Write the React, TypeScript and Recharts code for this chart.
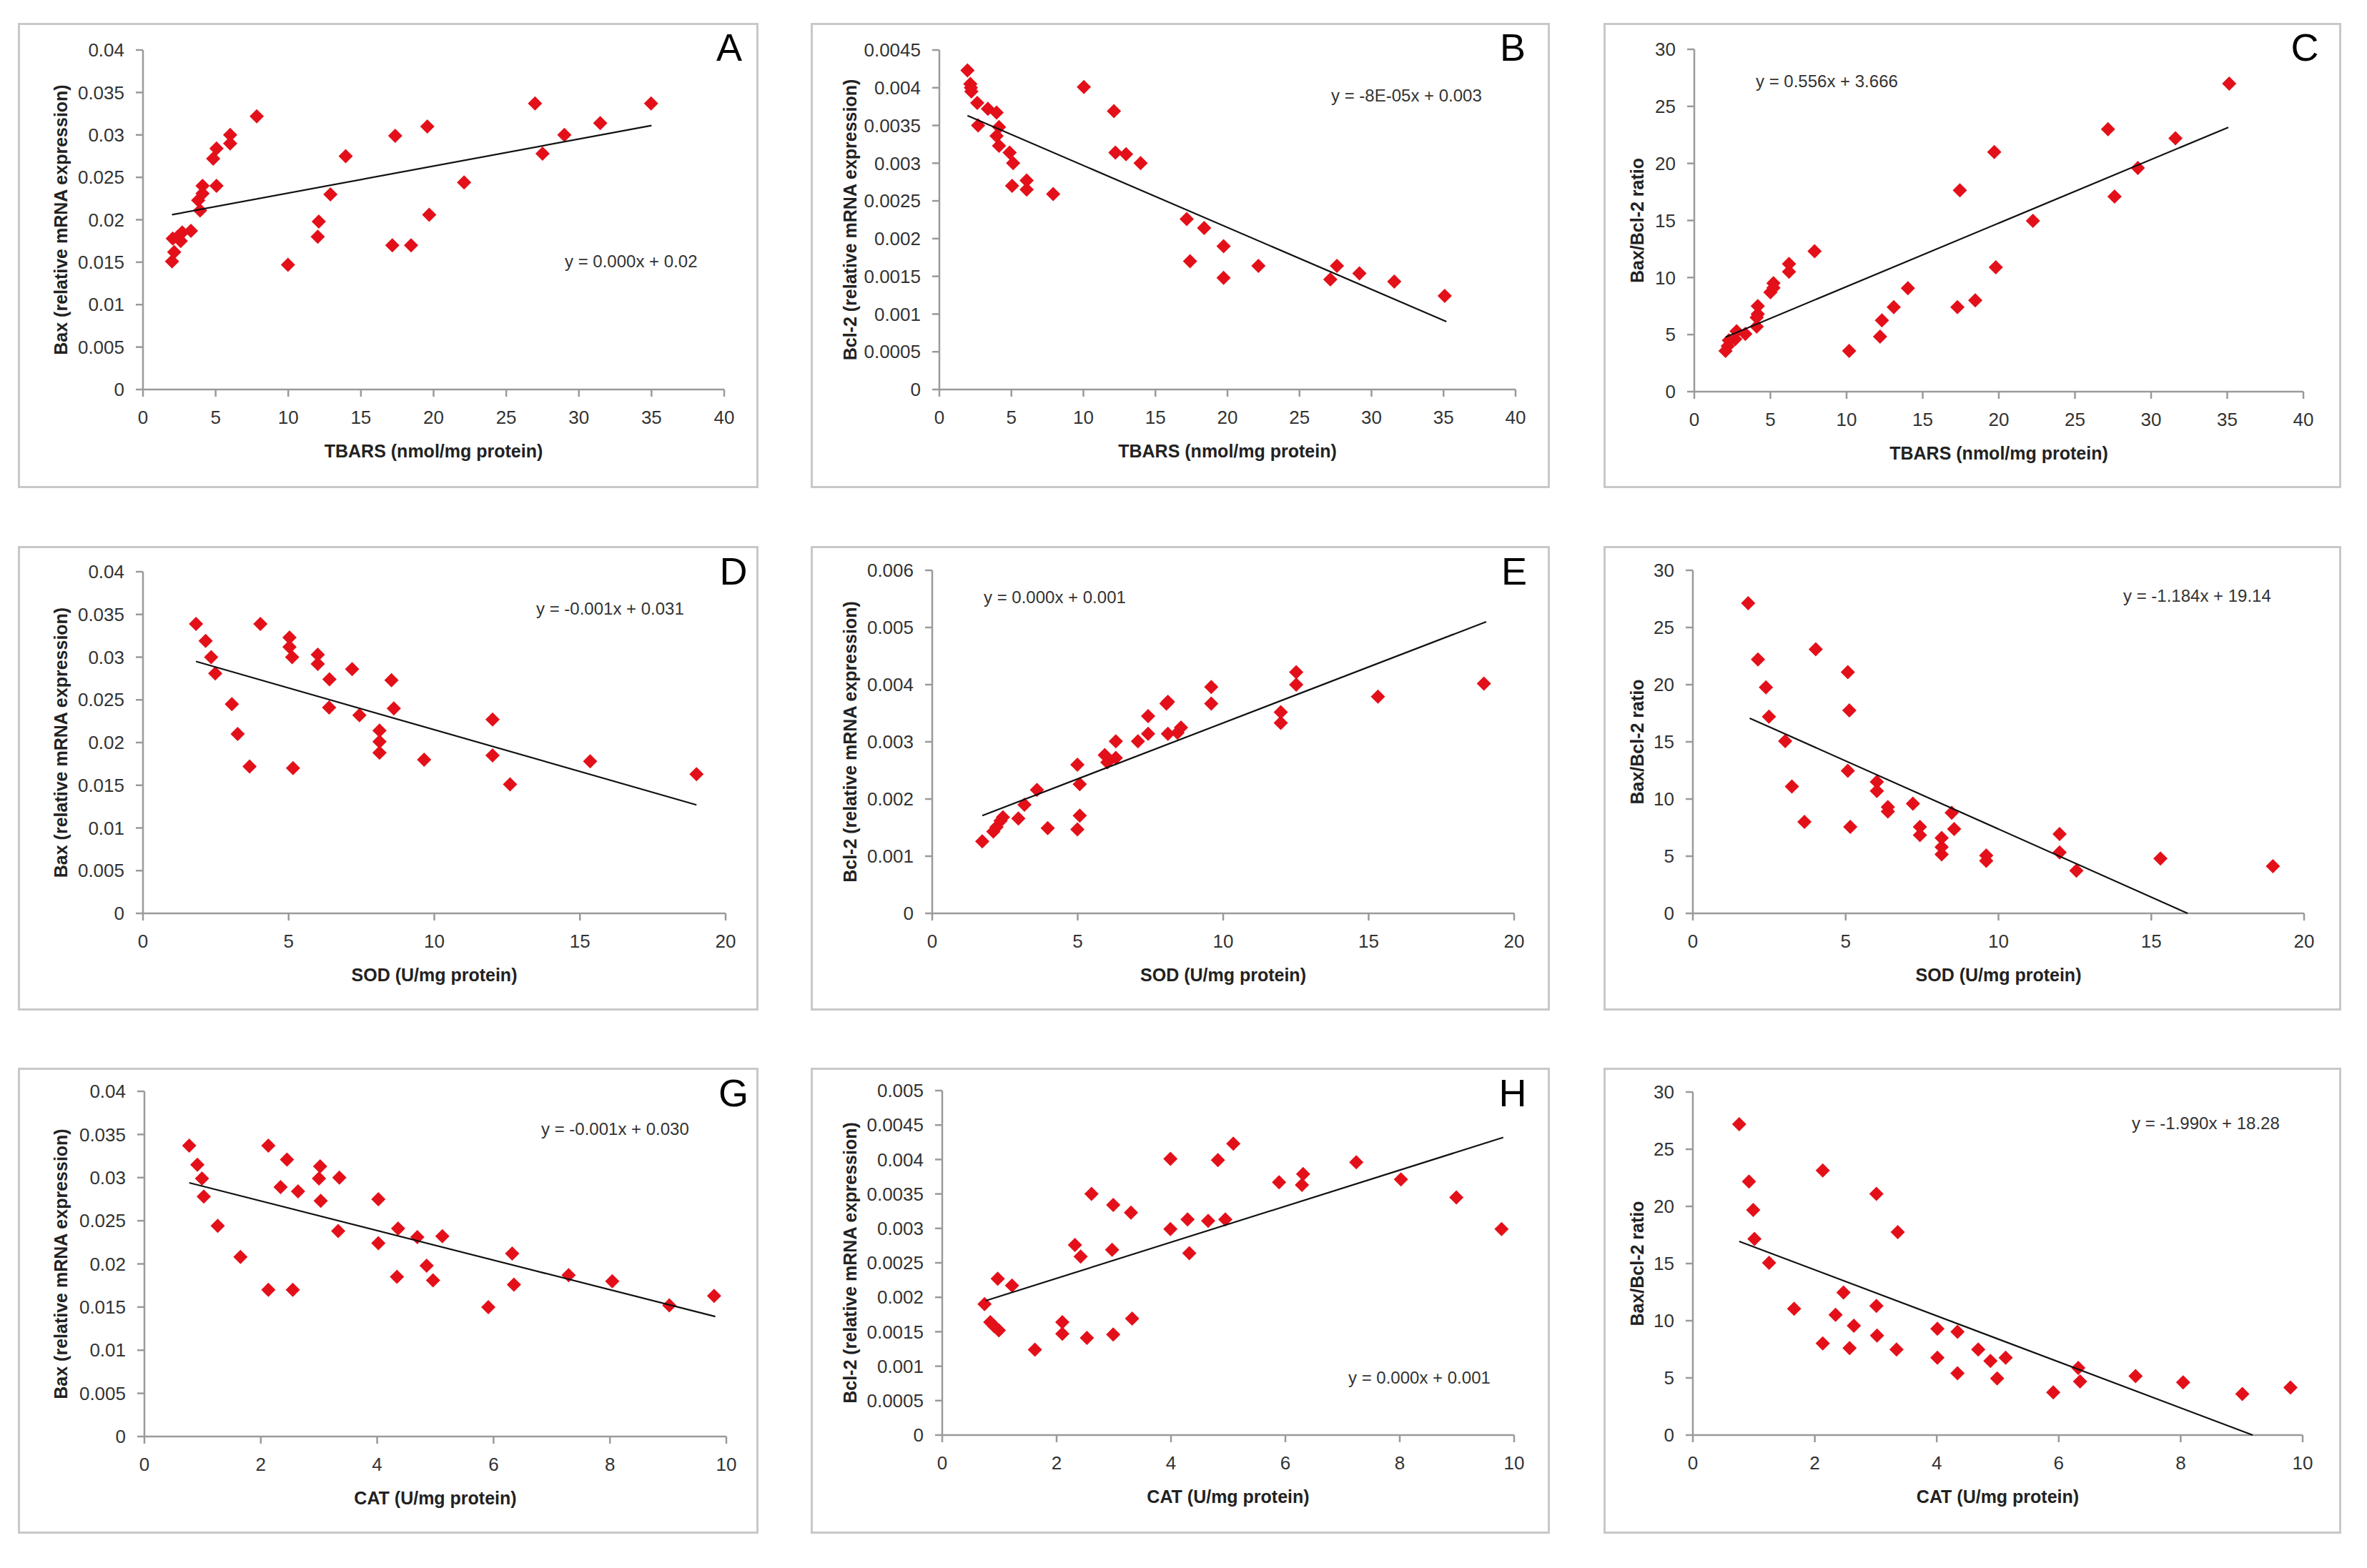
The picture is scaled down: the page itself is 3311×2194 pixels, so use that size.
import React from 'react'
import { ScatterChart, Scatter, XAxis, YAxis, Label } from 'recharts'

const FONT = "'Liberation Sans', Arial, sans-serif"
const RED = '#e3101a'
const AXIS = '#9a9a9a'

// ---- data ----
const tbarsA = [2.0, 2.15, 2.05, 2.4, 2.6, 2.7, 3.3, 3.8, 3.93, 4.1, 4.1, 4.83, 5.06, 5.06, 6.0, 6.0, 7.83, 9.98, 12.03, 12.1, 12.9, 13.95, 17.16, 17.36, 18.45, 19.57, 19.7, 22.1, 26.98, 27.5, 29.0, 31.47, 34.97]
const baxA = [0.0151, 0.0162, 0.0178, 0.018, 0.0175, 0.0185, 0.0187, 0.0223, 0.0211, 0.024, 0.0231, 0.0272, 0.0284, 0.024, 0.03, 0.029, 0.0322, 0.0147, 0.018, 0.0198, 0.023, 0.0275, 0.017, 0.0299, 0.017, 0.031, 0.0206, 0.0244, 0.0337, 0.0278, 0.03, 0.0314, 0.0337]
const trendAx = [2.0, 35.0]
const trendAy = [0.0206, 0.0311]

const tbarsB = [1.95, 2.15, 2.19, 2.22, 2.63, 2.69, 3.37, 3.97, 4.14, 3.97, 4.14, 4.88, 5.12, 5.05, 6.06, 6.06, 7.9, 10.03, 12.12, 12.22, 12.96, 13.97, 17.17, 17.4, 18.38, 19.73, 19.73, 22.15, 27.14, 27.6, 29.16, 31.58, 35.08]
const bcl2B = [0.00423, 0.00405, 0.004, 0.00395, 0.0038, 0.0035, 0.00372, 0.00367, 0.00348, 0.00336, 0.00323, 0.00314, 0.003, 0.0027, 0.00277, 0.00265, 0.00259, 0.00401, 0.00369, 0.00314, 0.00312, 0.003, 0.00226, 0.0017, 0.00214, 0.0019, 0.00148, 0.00164, 0.00146, 0.00164, 0.00154, 0.00143, 0.00124]
const trendBx = [1.95, 35.2]
const trendBy = [0.00363, 0.0009]

const tbarsC = [2.05, 2.2, 2.27, 2.69, 2.78, 3.35, 4.1, 4.1, 4.17, 4.17, 5.0, 5.2, 5.2, 6.22, 6.22, 7.9, 10.17, 12.2, 12.32, 13.1, 14.03, 17.28, 17.44, 18.45, 19.7, 19.8, 22.24, 27.17, 27.6, 29.13, 31.6, 35.13]
const ratioC = [3.57, 4.0, 4.5, 4.6, 5.3, 5.05, 5.7, 6.5, 6.8, 7.5, 8.7, 9.1, 9.5, 10.5, 11.2, 12.3, 3.57, 4.83, 6.25, 7.4, 9.07, 7.4, 17.65, 8.0, 21.0, 10.9, 14.97, 23.0, 17.1, 19.6, 22.2, 27.0]
const trendCx = [2.05, 35.07]
const trendCy = [4.78, 23.16]

const sodD = [1.82, 2.15, 2.34, 2.48, 3.05, 3.25, 3.66, 4.03, 5.03, 5.03, 5.12, 5.15, 6.0, 6.0, 6.4, 6.39, 7.18, 7.43, 8.12, 8.12, 8.12, 8.53, 8.61, 9.65, 12.0, 12.0, 12.6, 15.35, 19.0]
const baxD = [0.0339, 0.0319, 0.03, 0.0281, 0.0245, 0.021, 0.0172, 0.0339, 0.0323, 0.0312, 0.03, 0.017, 0.0303, 0.0292, 0.0274, 0.0241, 0.0286, 0.0232, 0.0214, 0.0201, 0.0188, 0.0273, 0.024, 0.018, 0.0227, 0.0185, 0.0151, 0.0178, 0.0163]
const trendDx = [1.82, 19.0]
const trendDy = [0.0295, 0.0127]

const sodE = [1.72, 2.1, 2.21, 2.35, 2.43, 2.96, 3.17, 3.6, 3.97, 4.99, 4.99, 5.07, 5.07, 5.93, 6.02, 6.31, 6.31, 7.07, 7.42, 7.42, 8.05, 8.1, 8.1, 8.43, 8.55, 9.59, 9.59, 11.98, 11.98, 12.51, 12.51, 15.32, 18.96]
const bcl2E = [0.00126, 0.00143, 0.00151, 0.00162, 0.00168, 0.00166, 0.0019, 0.00216, 0.00149, 0.0026, 0.00147, 0.00226, 0.00171, 0.00277, 0.00264, 0.00272, 0.00301, 0.00301, 0.00314, 0.00345, 0.00367, 0.0037, 0.00314, 0.00316, 0.00325, 0.00367, 0.00396, 0.00352, 0.00333, 0.00422, 0.004, 0.00379, 0.00402]
const trendEx = [1.72, 19.04]
const trendEy = [0.00171, 0.0051]

const sodF = [1.81, 2.13, 2.39, 2.49, 3.02, 3.24, 3.65, 4.02, 5.07, 5.12, 5.07, 5.15, 6.02, 6.02, 6.38, 6.38, 7.2, 7.43, 7.43, 8.14, 8.14, 8.14, 8.47, 8.55, 9.6, 9.6, 12.0, 12.0, 12.55, 15.3, 18.98]
const ratioF = [27.13, 22.2, 19.76, 17.2, 15.07, 11.1, 8.0, 23.1, 21.1, 17.75, 12.47, 7.56, 11.5, 10.7, 9.3, 8.9, 9.6, 7.56, 6.84, 6.6, 5.8, 5.15, 8.8, 7.37, 5.07, 4.6, 6.94, 5.33, 3.73, 4.8, 4.13]
const trendFx = [1.86, 16.19]
const trendFy = [17.07, 0]

const catG = [0.77, 0.91, 0.99, 1.02, 1.26, 1.65, 2.13, 2.13, 2.34, 2.45, 2.55, 2.64, 3.0, 3.02, 3.03, 3.33, 3.35, 4.02, 4.02, 4.34, 4.36, 4.69, 4.85, 4.96, 5.12, 5.91, 6.32, 6.35, 7.29, 8.04, 9.02, 9.79]
const baxG = [0.0337, 0.0315, 0.0299, 0.0278, 0.0244, 0.0208, 0.0337, 0.017, 0.0289, 0.0321, 0.017, 0.0284, 0.0299, 0.0313, 0.0273, 0.0238, 0.03, 0.0275, 0.0224, 0.0185, 0.0241, 0.0231, 0.0198, 0.0181, 0.0232, 0.015, 0.0212, 0.0176, 0.0187, 0.018, 0.0152, 0.0163]
const trendGx = [0.77, 9.81]
const trendGy = [0.0294, 0.0139]

const catH = [0.74, 0.84, 0.91, 0.99, 0.97, 1.22, 1.62, 2.1, 2.1, 2.32, 2.42, 2.53, 2.61, 2.97, 2.99, 2.99, 3.3, 3.32, 3.99, 3.99, 4.29, 4.32, 4.65, 4.82, 4.95, 5.09, 5.89, 6.29, 6.31, 7.24, 8.02, 8.99, 9.78]
const bcl2H = [0.0019, 0.00164, 0.00158, 0.00152, 0.00227, 0.00217, 0.00124, 0.00164, 0.00147, 0.00276, 0.00259, 0.00141, 0.0035, 0.00269, 0.00334, 0.00146, 0.00323, 0.00169, 0.00401, 0.00299, 0.00313, 0.00264, 0.00311, 0.00399, 0.00313, 0.00423, 0.00367, 0.00363, 0.00379, 0.00396, 0.00371, 0.00345, 0.00299]
const trendHx = [0.76, 9.81]
const trendHy = [0.00195, 0.00432]

const catI = [0.76, 0.92, 0.99, 1.01, 1.25, 1.66, 2.13, 2.13, 2.34, 2.47, 2.57, 2.64, 3.01, 3.01, 3.02, 3.34, 3.36, 4.01, 4.01, 4.34, 4.34, 4.68, 4.88, 4.99, 5.13, 5.91, 6.32, 6.35, 7.26, 8.04, 9.01, 9.8]
const ratioI = [27.18, 22.17, 19.68, 17.16, 15.07, 11.05, 23.14, 8.02, 10.51, 12.47, 7.61, 9.57, 21.1, 11.3, 8.7, 7.48, 17.75, 9.3, 6.76, 9.03, 5.4, 7.48, 6.49, 4.96, 6.76, 3.73, 5.87, 4.69, 5.15, 4.61, 3.59, 4.16]
const trendIx = [0.76, 9.18]
const trendIy = [16.94, 0]

// axis ticks
const ticks40 = [0, 5, 10, 15, 20, 25, 30, 35, 40]
const ticks20 = [0, 5, 10, 15, 20]
const ticks10 = [0, 2, 4, 6, 8, 10]
const baxTicks = [0, 0.005, 0.01, 0.015, 0.02, 0.025, 0.03, 0.035, 0.04]
const bcl2TicksB = [0, 0.0005, 0.001, 0.0015, 0.002, 0.0025, 0.003, 0.0035, 0.004, 0.0045]
const bcl2TicksE = [0, 0.001, 0.002, 0.003, 0.004, 0.005, 0.006]
const bcl2TicksH = [0, 0.0005, 0.001, 0.0015, 0.002, 0.0025, 0.003, 0.0035, 0.004, 0.0045, 0.005]
const ratioTicks = [0, 5, 10, 15, 20, 25, 30]

const zip = (xs: number[], ys: number[]) => xs.map((x, i) => ({ x, y: ys[i] }))

const BAX = 'Bax (relative mRNA expression)'
const BCL = 'Bcl-2 (relative mRNA expression)'
const RATIO = 'Bax/Bcl-2 ratio'
const TBARS = 'TBARS (nmol/mg protein)'
const SOD = 'SOD (U/mg protein)'
const CAT = 'CAT (U/mg protein)'

// box: [left, top, w, h]; plot: [x1, y1, x2, y2]
const panels = [
  { box: [25, 32, 1036, 651], plot: [200, 70, 1013, 545], yTitleX: 85, eq: [790, 374], letter: 'A', letterPos: [1020, 85], xTicks: ticks40, yTicks: baxTicks, xTitle: TBARS, yTitle: BAX, eqText: 'y = 0.000x + 0.02', points: zip(tbarsA, baxA), trend: zip(trendAx, trendAy) },
  { box: [1134, 32, 1034, 651], plot: [1314, 70, 2120, 545], yTitleX: 1189, eq: [1862, 142], letter: 'B', letterPos: [2116, 85], xTicks: ticks40, yTicks: bcl2TicksB, xTitle: TBARS, yTitle: BCL, eqText: 'y = -8E-05x + 0.003', points: zip(tbarsB, bcl2B), trend: zip(trendBx, trendBy) },
  { box: [2243, 32, 1032, 651], plot: [2370, 69, 3222, 548], yTitleX: 2290, eq: [2456, 122], letter: 'C', letterPos: [3224, 85], xTicks: ticks40, yTicks: ratioTicks, xTitle: TBARS, yTitle: RATIO, eqText: 'y = 0.556x + 3.666', points: zip(tbarsC, ratioC), trend: zip(trendCx, trendCy) },
  { box: [25, 764, 1036, 650], plot: [200, 800, 1015, 1278], yTitleX: 85, eq: [750, 860], letter: 'D', letterPos: [1026, 818], xTicks: ticks20, yTicks: baxTicks, xTitle: SOD, yTitle: BAX, eqText: 'y = -0.001x + 0.031', points: zip(sodD, baxD), trend: zip(trendDx, trendDy) },
  { box: [1134, 764, 1034, 650], plot: [1304, 798, 2118, 1278], yTitleX: 1189, eq: [1376, 844], letter: 'E', letterPos: [2118, 818], xTicks: ticks20, yTicks: bcl2TicksE, xTitle: SOD, yTitle: BCL, eqText: 'y = 0.000x + 0.001', points: zip(sodE, bcl2E), trend: zip(trendEx, trendEy) },
  { box: [2243, 764, 1032, 650], plot: [2368, 798, 3223, 1278], yTitleX: 2290, eq: [2970, 842], letter: '', letterPos: [0, 0], xTicks: ticks20, yTicks: ratioTicks, xTitle: SOD, yTitle: RATIO, eqText: 'y = -1.184x + 19.14', points: zip(sodF, ratioF), trend: zip(trendFx, trendFy) },
  { box: [25, 1494, 1036, 652], plot: [202, 1527, 1016, 2010], yTitleX: 85, eq: [757, 1588], letter: 'G', letterPos: [1026, 1548], xTicks: ticks10, yTicks: baxTicks, xTitle: CAT, yTitle: BAX, eqText: 'y = -0.001x + 0.030', points: zip(catG, baxG), trend: zip(trendGx, trendGy) },
  { box: [1134, 1494, 1034, 652], plot: [1318, 1526, 2118, 2008], yTitleX: 1189, eq: [1886, 1936], letter: 'H', letterPos: [2116, 1548], xTicks: ticks10, yTicks: bcl2TicksH, xTitle: CAT, yTitle: BCL, eqText: 'y = 0.000x + 0.001', points: zip(catH, bcl2H), trend: zip(trendHx, trendHy) },
  { box: [2243, 1494, 1032, 652], plot: [2368, 1528, 3221, 2008], yTitleX: 2290, eq: [2982, 1580], letter: '', letterPos: [0, 0], xTicks: ticks10, yTicks: ratioTicks, xTitle: CAT, yTitle: RATIO, eqText: 'y = -1.990x + 18.28', points: zip(catI, ratioI), trend: zip(trendIx, trendIy) },
]

const Diamond = (props: any) => {
  const { cx, cy } = props
  if (cx == null || cy == null) return <g />
  const r = 10
  return <path d={`M${cx},${cy - r}L${cx + r},${cy}L${cx},${cy + r}L${cx - r},${cy}Z`} fill={RED} />
}

const NoDot = () => <g />

function Panel({ p }: { p: any }) {
  const [bx, by, bw, bh] = p.box
  const [px1, py1, px2, py2] = p.plot
  const yW = 100
  const xH = 60
  const margin = { top: py1 - by, right: bx + bw - px2, left: px1 - bx - yW, bottom: by + bh - py2 - xH }
  const xMax = p.xTicks[p.xTicks.length - 1]
  const yMax = p.yTicks[p.yTicks.length - 1]

  const overlay = () => {
    const tx = p.yTitleX - bx
    const ty = (py1 + py2) / 2 - by
    return (
      <g fontFamily={FONT}>
        <text x={(px1 + px2) / 2 - bx} y={py2 + 95 - by} textAnchor="middle" fontSize={25} fontWeight="bold" fill="#222">{p.xTitle}</text>
        <text x={tx} y={ty} transform={`rotate(-90, ${tx}, ${ty})`} textAnchor="middle" dominantBaseline="central" fontSize={25} fontWeight="bold" fill="#222">{p.yTitle}</text>
        <text x={p.eq[0] - bx} y={p.eq[1] - by} fontSize={24} fill="#333">{p.eqText}</text>
        {p.letter && <text x={p.letterPos[0] - bx} y={p.letterPos[1] - by} textAnchor="middle" fontSize={54} fill="#000">{p.letter}</text>}
      </g>
    )
  }

  const tickStyle = { fontSize: 26, fill: '#333', fontFamily: FONT }
  return (
    <>
      <div style={{ position: 'absolute', left: bx, top: by, width: bw, height: bh }}>
        <ScatterChart width={bw} height={bh} margin={margin}>
          <XAxis type="number" dataKey="x" domain={[0, xMax]} ticks={p.xTicks} interval={0} height={xH}
            tick={tickStyle} tickSize={10} tickMargin={20}
            axisLine={{ stroke: AXIS, strokeWidth: 2.5 }} tickLine={{ stroke: AXIS, strokeWidth: 2.5 }} />
          <YAxis type="number" dataKey="y" domain={[0, yMax]} ticks={p.yTicks} interval={0} width={yW}
            tick={tickStyle} tickSize={10} tickMargin={16} tickFormatter={(v: number) => String(v)}
            axisLine={{ stroke: AXIS, strokeWidth: 2.5 }} tickLine={{ stroke: AXIS, strokeWidth: 2.5 }}>
            <Label content={overlay} />
          </YAxis>
          <Scatter data={p.points} shape={Diamond} isAnimationActive={false} />
          <Scatter data={p.trend} shape={NoDot} line={{ stroke: '#111', strokeWidth: 2.2 }} isAnimationActive={false} />
        </ScatterChart>
      </div>
      <div style={{ position: 'absolute', left: bx, top: by, width: bw, height: bh, border: '3px solid #c8c8c8', boxSizing: 'border-box', pointerEvents: 'none' }} />
    </>
  )
}

export default function App() {
  return (
    <div style={{ position: 'absolute', left: 0, top: 0, width: 3311, height: 2194, background: '#fff', overflow: 'hidden' }}>
      {panels.map((p, i) => <Panel key={i} p={p} />)}
    </div>
  )
}
